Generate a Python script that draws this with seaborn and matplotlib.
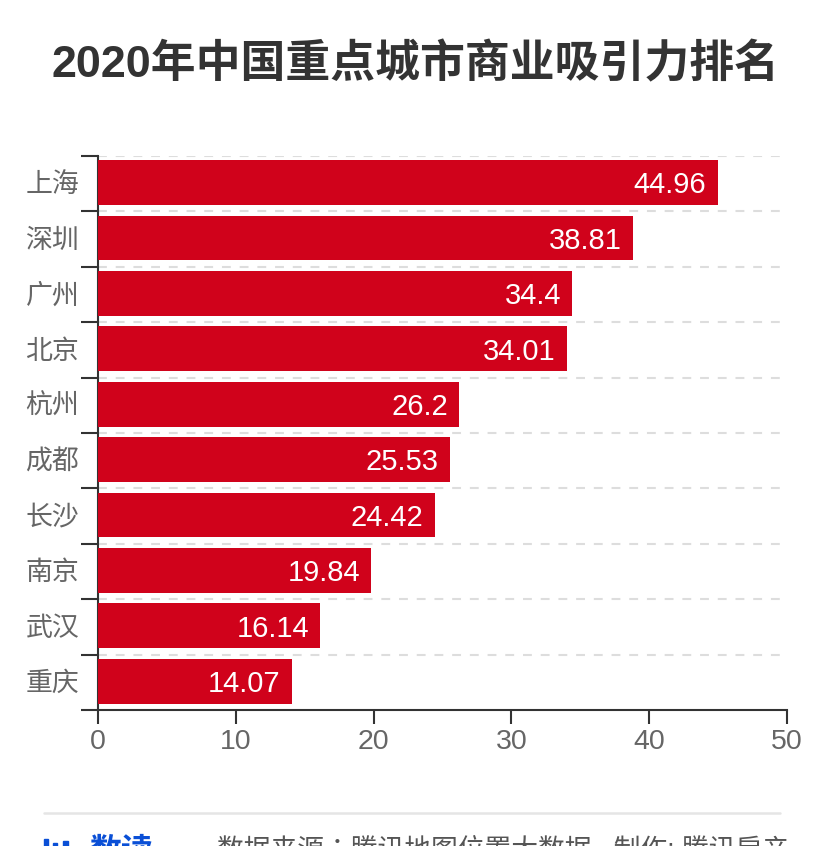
import numpy as np
import pandas as pd
import matplotlib.pyplot as plt
import seaborn as sns

sns.set_style("white")
plt.rcParams["font.family"] = ["Liberation Sans", "Noto Sans CJK SC"]

# Chart values
cities = ["上海", "深圳", "广州", "北京", "杭州", "成都", "长沙", "南京", "武汉", "重庆"]
scores = [44.96, 38.81, 34.4, 34.01, 26.2, 25.53, 24.42, 19.84, 16.14, 14.07]
score_labels = ["44.96", "38.81", "34.4", "34.01", "26.2", "25.53", "24.42", "19.84", "16.14", "14.07"]
x_ticks = [0, 10, 20, 30, 40, 50]

# Create DataFrame
df = pd.DataFrame({"city": cities, "score": scores})

# Plot: ranking bars
fig = plt.figure(figsize=(8.3, 8.46), dpi=100)
ax = fig.add_axes([98 / 830, 1 - 710 / 846, 689 / 830, 554 / 846])
sns.barplot(data=df, x="score", y="city", color="#d0021b", saturation=1, width=0.81, linewidth=0, ax=ax, zorder=3)
ax.bar_label(ax.containers[0], labels=score_labels, padding=-8, label_type="edge", color="white", fontsize=21)
for lbl in ax.texts:
    lbl.set_horizontalalignment("right")
    lbl.xyann = (lbl.xyann[0], -2)

# Category boundaries get the ticks and the dashed lines
edges = np.arange(len(cities) + 1) - 0.48
ax.hlines(edges[:-1], 0, 49.6, color="#dddddd", linewidth=1.5, linestyle=(0, (4.25, 4.25)), zorder=1)
ax.set_yticks(edges, minor=True)
ax.tick_params(axis="y", which="minor", left=True, length=12, width=1.5, color="#333333")
ax.tick_params(axis="y", which="major", left=False, labelsize=19.4, labelcolor="#666666", pad=10)
ax.tick_params(axis="x", bottom=True, length=10, width=1.5, color="#333333", labelsize=20.5, labelcolor="#666666", pad=4)
ax.set_xticks(x_ticks)
ax.set_xlim(0, 50)
ax.set_ylim(9.52, -0.48)
ax.set_xlabel("")
ax.set_ylabel("")
for side in ["top", "right"]:
    ax.spines[side].set_visible(False)
for side in ["left", "bottom"]:
    ax.spines[side].set_color("#333333")
    ax.spines[side].set_linewidth(1.5)
ax.spines["left"].set_zorder(2)  # bars sit over the axis line

# Title and the cut-off footer
fig.text(415 / 830, 1 - 65 / 846, "2020年中国重点城市商业吸引力排名", ha="center", va="center", fontsize=32.3, fontweight="bold", color="#333333")
fig.add_artist(plt.Line2D([44 / 830, 780 / 830], [1 - 813 / 846, 1 - 813 / 846], color="#e5e5e5", linewidth=1.8))
fig.add_artist(plt.Rectangle((44 / 830, 0), 4 / 830, 7 / 846, color="#0a4fd6"))
fig.add_artist(plt.Rectangle((53 / 830, 0), 4 / 830, 3 / 846, color="#0a4fd6"))
fig.add_artist(plt.Rectangle((63 / 830, 0), 5 / 830, 5 / 846, color="#0a4fd6"))
fig.text(89 / 830, 1 - 852 / 846, "数读", ha="left", va="center", fontsize=23, fontweight="bold", color="#0a4fd6")
fig.text(217 / 830, 1 - 850 / 846, "数据来源：腾讯地图位置大数据   制作: 腾讯房产", ha="left", va="center", fontsize=19.3, color="#555555", family=["Liberation Sans", "Noto Sans CJK TC"])

plt.savefig("out.png", dpi=100)
plt.close()
